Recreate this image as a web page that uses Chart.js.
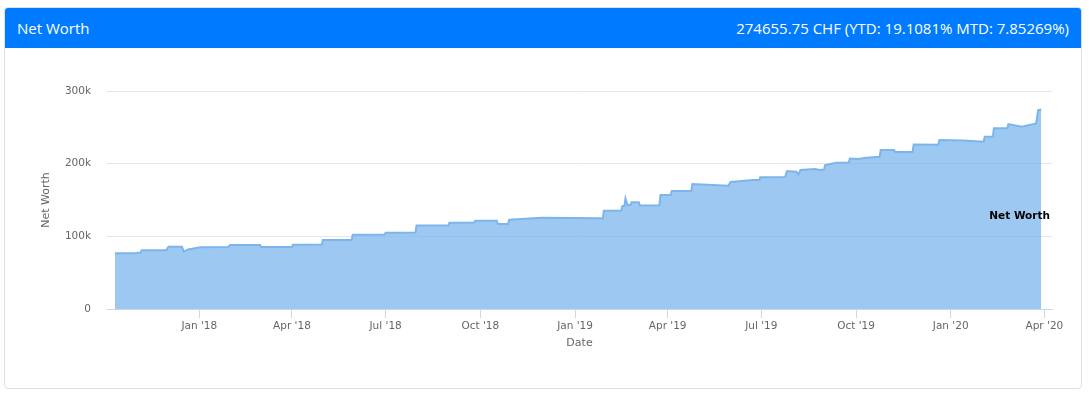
<!DOCTYPE html>
<html>
<head>
<meta charset="utf-8">
<script src="https://cdn.jsdelivr.net/npm/chart.js@4.4.0/dist/chart.umd.min.js"></script>
<style>
    body { margin: 0; background: #fff; font-family: 'Open Sans', sans-serif; }
    .card {
        position: absolute; left: 4px; top: 7px; width: 1076px; height: 380px;
        border: 1px solid #dfdfdf; border-radius: 4px; overflow: hidden;
    }
    .card-header {
        height: 40px; background: #007bff; color: #fff; font-size: 15px;
        display: flex; justify-content: space-between; align-items: center;
        padding: 0 12px 0 12px;
    }
    .chart-box { position: absolute; left: 5px; top: 49px; width: 1076px; height: 339px; }
</style>
</head>
<body>
<div class="card">
    <div class="card-header">
        <span>Net Worth</span>
        <span>274655.75 CHF (YTD: 19.1081% MTD: 7.85269%)</span>
    </div>
</div>
<div class="chart-box"><canvas id="netWorthChart"></canvas></div>
<script>
// Days since 1 Jan 2018 and net worth (CHF) on those days
const days = [-82, -61, -60, -57, -56, -32, -30, -17, -15, -11, 1, 28, 30, 59, 60, 90, 91, 119, 120, 148,
    149, 180, 181, 210, 211, 242, 243, 267, 268, 289, 290, 300, 301, 333, 389, 392, 393, 410, 411, 413,
    414, 416, 419, 420, 427, 428, 447, 448, 458, 459, 478, 479, 514, 516, 538, 544, 545, 569, 571, 580,
    582, 584, 598, 603, 607, 608, 619, 631, 632, 640, 648, 661, 662, 675, 676, 693, 694, 718, 719, 742,
    762, 763, 771, 772, 785, 786, 799, 813, 815, 818];
const netWorth = [76600, 76600, 77400, 77400, 80700, 80700, 85700, 85700, 78800, 82000,
    84900, 85300, 88000, 88000, 85300, 85300, 88400, 88600, 94900, 95000,
    102200, 102500, 105000, 105200, 115000, 115300, 118700, 119000, 121500, 121500,
    116900, 117000, 122800, 125600, 125000, 124700, 135200, 135500, 141700, 142000,
    152300, 143000, 143500, 146800, 146800, 142600, 142800, 156800, 157000, 162300,
    162500, 171900, 169600, 174700, 177400, 177400, 181200, 181500, 189800, 189000,
    185300, 191200, 192600, 191200, 192000, 198000, 201200, 201500, 207200, 206500,
    208200, 209500, 218700, 218700, 216000, 216200, 226500, 226000, 232500, 232000,
    230200, 237100, 237500, 248600, 248800, 254500, 250800, 255400, 273700, 274656];

// x axis ticks (quarter starts)
const tickDays = [0, 90, 181, 273, 365, 455, 546, 638, 730, 821];
const tickLabels = ["Jan '18", "Apr '18", "Jul '18", "Oct '18", "Jan '19", "Apr '19", "Jul '19", "Oct '19", "Jan '20", "Apr '20"];

const gray = '#666666';
const tickFont = { family: 'DejaVu Sans', size: 10.5 };

// series label drawn inside the plot, like the original
const seriesLabel = {
    id: 'seriesLabel',
    afterDatasetsDraw(chart, args, opts) {
        const { ctx, chartArea, scales } = chart;
        ctx.save();
        ctx.font = 'bold 10.5px "DejaVu Sans"';
        ctx.fillStyle = '#000';
        ctx.textAlign = 'right';
        ctx.textBaseline = 'middle';
        ctx.fillText(opts.text, chartArea.right - 2, scales.y.getPixelForValue(opts.value));
        ctx.restore();
    }
};

new Chart(document.getElementById('netWorthChart'), {
    type: 'line',
    data: {
        datasets: [{
            label: 'Net Worth',
            data: days.map((d, i) => ({ x: d, y: netWorth[i] })),
            borderColor: '#7cb5ec',
            backgroundColor: 'rgba(124, 181, 236, 0.75)',
            borderWidth: 2,
            pointRadius: 0,
            tension: 0,
            fill: 'origin'
        }]
    },
    options: {
        responsive: true,
        maintainAspectRatio: false,
        animation: false,
        layout: { padding: { left: 0, right: 29, top: 42, bottom: 0 } },
        plugins: {
            legend: { display: false },
            tooltip: { enabled: false },
            seriesLabel: { text: 'Net Worth', value: 128000 }
        },
        scales: {
            x: {
                type: 'linear',
                min: -89.7,
                max: 828.4,
                afterBuildTicks: scale => {
                    scale.ticks = tickDays.map(v => ({ value: v }));
                },
                afterFit: scale => { scale.height = 79; },
                ticks: {
                    autoSkip: false,
                    maxRotation: 0,
                    padding: 2,
                    color: gray,
                    font: tickFont,
                    callback: (value, index) => tickLabels[index]
                },
                grid: {
                    drawOnChartArea: false,
                    drawTicks: true,
                    tickLength: 9,
                    color: '#ccd6eb'
                },
                border: { color: '#ccd6eb' },
                title: {
                    display: true,
                    text: 'Date',
                    color: gray,
                    font: { family: 'DejaVu Sans', size: 11 },
                    padding: { top: 0, bottom: 38 }
                }
            },
            y: {
                min: 0,
                max: 300000,
                afterFit: scale => { scale.width = 102; },
                ticks: {
                    stepSize: 100000,
                    padding: 16,
                    color: gray,
                    font: tickFont,
                    callback: v => v === 0 ? '0' : (v / 1000) + 'k'
                },
                grid: { color: '#e6e6e6', drawTicks: false },
                border: { display: false },
                title: {
                    display: true,
                    text: 'Net Worth',
                    color: gray,
                    font: { family: 'DejaVu Sans', size: 11 },
                    padding: { top: 35, bottom: 0 }
                }
            }
        }
    },
    plugins: [seriesLabel]
});
</script>
</body>
</html>
